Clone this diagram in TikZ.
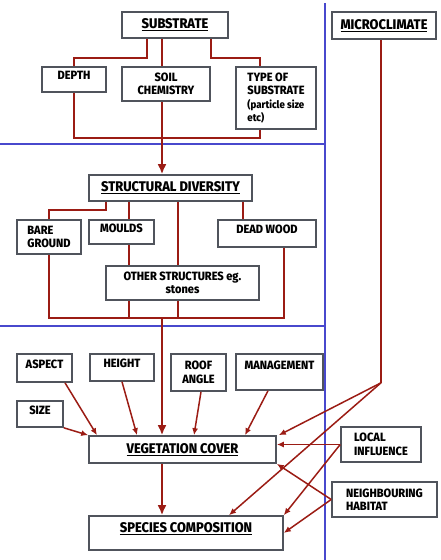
\documentclass[tikz,border=0pt]{standalone}
\usepackage{fontspec}
\setmainfont{Fira Sans}[FakeStretch=0.92, BoldFont={Fira Sans ExtraBold}]
\usetikzlibrary{arrows.meta}
\definecolor{linkred}{RGB}{155,28,20}
\definecolor{divblue}{RGB}{72,72,205}
\definecolor{boxgrey}{RGB}{80,84,92}
\begin{document}
\begin{tikzpicture}[x=1pt, y=-1pt,
  box/.style = {draw=boxgrey, line width=1.6pt, fill=white, inner sep=2pt,
    font=\bfseries\fontsize{12}{13.5}\selectfont, align=center},
  head/.style = {box, font=\bfseries\fontsize{14}{16}\selectfont},
  upper/.style = {text depth=8pt},
  link/.style = {draw=linkred, line width=1.5pt},
  pointer/.style = {link, -{Latex[length=7pt, width=6pt]}},
  trunk/.style = {draw=linkred, line width=2.8pt, -{Latex[length=10pt, width=9pt]}},
  divider/.style = {draw=divblue, line width=1.8pt},
  small/.style = {font=\bfseries\fontsize{10.5}{12.5}\selectfont}]

\useasboundingbox (0,0) rectangle (440,560);

% dividers
\draw[divider] (325,3) -- (325,560);
\draw[divider] (0,144) -- (325,144);
\draw[divider] (0,326) -- (325,326);

\coordinate (trunk) at (162,0);

% substrate
\node[head, minimum width=106, minimum height=26] (sub) at (175,25) {\underline{SUBSTRATE}};
\node[box, upper, minimum width=64, minimum height=25] (dep) at (74,79.5) {DEPTH};
\node[box, minimum width=88, minimum height=34] (soil) at (166,84) {SOIL\\CHEMISTRY};
\node[box, align=left, minimum width=80, minimum height=62] (type) at (276,98)
  {TYPE OF\\SUBSTRATE\\{\fontsize{10.5}{12.5}\selectfont (particle size}\\{\fontsize{10.5}{12.5}\selectfont etc)}};

\draw[link] ([xshift=-28pt]sub.south) -- ++(0,19) -| (dep.north);
\draw[link] (sub.south -| trunk) -- (soil.north -| trunk);
\draw[link] ([xshift=36pt]sub.south) -- ++(0,19) -| ([xshift=-16pt]type.north);
\draw[link] (dep.south) -- ++(0,45) -| ([xshift=-16pt]type.south);

% structural diversity
\node[head, minimum width=163, minimum height=26] (sd) at (170.5,188) {\underline{STRUCTURAL DIVERSITY}};
\node[box, align=left, minimum width=64, minimum height=34] (bare) at (49,237) {BARE\\GROUND};
\node[box, upper, minimum width=65, minimum height=24] (mould) at (121.5,232) {MOULDS};
\node[box, upper, minimum width=98, minimum height=27] (dead) at (267,233.5) {DEAD WOOD};
\node[box, minimum width=153, minimum height=34] (other) at (182.5,283) {OTHER STRUCTURES eg.\\stones};

\draw[trunk] (soil.south -| trunk) -- (sd.north -| trunk);

\coordinate (mx) at ([xshift=7.5pt]mould.north);
\coordinate (ox) at ([xshift=-4.5pt]other.north);
\coordinate (dx) at ([xshift=-24pt]dead.north);

\draw[link] ([xshift=-64.5pt]sd.south) -- ++(0,8) -| (bare.north);
\draw[link] (sd.south -| mx) -- (mx);
\draw[link] (sd.south -| ox) -- (ox);
\draw[link] (sd.south -| dx) -- (dx);
\draw[link] (mould.south -| mx) -- (other.north -| mx);
\draw[link] (bare.south) -- ++(0,63) coordinate (bus) -| ([xshift=17pt]dead.south);
\draw[link] (other.south -| mx) -- (bus -| mx);
\draw[link] (other.south -| ox) -- (bus -| ox);

% vegetation
\node[box, upper, minimum width=55, minimum height=28] (asp) at (44.5,368) {ASPECT};
\node[box, upper, minimum width=64, minimum height=27] (hgt) at (122,367.5) {HEIGHT};
\node[box, minimum width=55, minimum height=37] (roof) at (198.5,372.5) {ROOF\\ANGLE};
\node[box, upper, text depth=14pt, minimum width=87, minimum height=36] (mgmt) at (279.5,372) {MANAGEMENT};
\node[box, upper, minimum width=46, minimum height=26] (size) at (40,414) {SIZE};
\node[head, minimum width=187, minimum height=27] (veg) at (182.5,449.5) {\underline{VEGETATION COVER}};
\node[head, text depth=10pt, minimum width=194, minimum height=34] (spec) at (186,533) {\underline{SPECIES COMPOSITION}};

\draw[trunk] (bus -| trunk) -- (veg.north -| trunk);
\draw[trunk] (veg.south -| trunk) -- (spec.north -| trunk);

\draw[pointer] ([xshift=20.5pt]asp.south) -- ([xshift=-85.5pt]veg.north);
\draw[pointer] (hgt.south) -- ([xshift=-45.5pt]veg.north);
\draw[pointer] ([xshift=2.5pt]roof.south) -- ([xshift=11.5pt]veg.north);
\draw[pointer] ([xshift=-11.5pt]mgmt.south) -- ([xshift=62.5pt]veg.north);
\draw[pointer] (size.south east) -- (veg.north west);

% microclimate and outside influences
\node[head, minimum width=104, minimum height=27] (micro) at (384,25.5) {\underline{MICROCLIMATE}};
\node[box, align=left, minimum width=80, minimum height=35] (loc) at (381,444.5) {LOCAL\\INFLUENCE};
\node[box, align=left, minimum width=105, minimum height=35] (nbr) at (384.5,499.5) {NEIGHBOURING\\HABITAT};

\draw[link] ([xshift=-3pt]micro.south) -- ++(0,343) coordinate (mc);
\draw[pointer] (mc) -- ([xshift=2pt]veg.north east);
\draw[pointer] (mc) -- ([xshift=43pt]spec.north);
\draw[pointer] (loc.west) -- (veg.east |- loc.west);
\draw[pointer] (loc.west) -- (spec.north east);
\draw[pointer] (nbr.west) -- (veg.south east);
\draw[pointer] (nbr.west) -- (spec.east);

\end{tikzpicture}
\end{document}
